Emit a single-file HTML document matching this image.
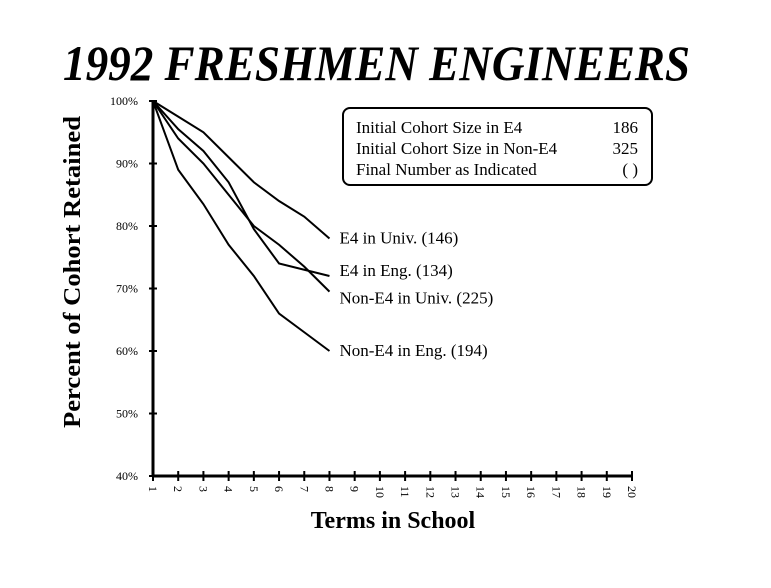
<!DOCTYPE html>
<html><head><meta charset="utf-8"><style>
html,body{margin:0;padding:0;background:#fff;}
svg{display:block;font-family:"Liberation Serif",serif;}
</style></head><body>
<svg id="chart" width="771" height="588" viewBox="0 0 771 588">
<text x="63" y="80" font-size="50" font-weight="bold" font-style="italic" textLength="627" lengthAdjust="spacingAndGlyphs">1992 FRESHMEN ENGINEERS</text>
<text transform="translate(80,272) rotate(-90)" text-anchor="middle" font-size="24" font-weight="bold" textLength="312" lengthAdjust="spacingAndGlyphs">Percent of Cohort Retained</text>
<text x="393" y="528" text-anchor="middle" font-size="24" font-weight="bold">Terms in School</text>
<g>
<rect x="343" y="108" width="309" height="77" rx="7" fill="none" stroke="#000" stroke-width="2"/>
<text x="356" y="133" font-size="17">Initial Cohort Size in E4</text>
<text x="638" y="133" font-size="17" text-anchor="end">186</text>
<text x="356" y="154" font-size="17">Initial Cohort Size in Non-E4</text>
<text x="638" y="154" font-size="17" text-anchor="end">325</text>
<text x="356" y="175" font-size="17">Final Number as Indicated</text>
<text x="638" y="175" font-size="17" text-anchor="end">( )</text>
</g>
<g id="axes"></g>
<g id="series"></g>
</svg>
<script>
const terms = [1,2,3,4,5,6,7,8];
const e4Univ = [100,97.5,95,91,87,84,81.5,78];
const e4Eng = [100,95.5,92,87,79.5,74,73,72];
const nonE4Univ = [100,94,90,85,80,77,73.5,69.5];
const nonE4Eng = [100,89,83.5,77,72,66,63,60];
const seriesNames = ["E4 in Univ. (146)","E4 in Eng. (134)","Non-E4 in Univ. (225)","Non-E4 in Eng. (194)"];
const yTicks = [40,50,60,70,80,90,100];
const xTicks = [1,2,3,4,5,6,7,8,9,10,11,12,13,14,15,16,17,18,19,20];

const NS="http://www.w3.org/2000/svg";
const X=t=>153+(t-1)*(632-153)/19;
const Y=v=>476-(v-40)*(476-101)/60;
function mk(tag,attrs,parent){const e=document.createElementNS(NS,tag);for(const k in attrs)e.setAttribute(k,attrs[k]);parent.appendChild(e);return e;}
const axes=document.getElementById('axes');
let l=mk('line',{x1:X(1),y1:Y(100),x2:X(1),y2:Y(40),stroke:'#000','stroke-width':3},axes);


l=mk('line',{x1:X(1),y1:Y(40),x2:X(20),y2:Y(40),stroke:'#000','stroke-width':3},axes);


yTicks.forEach(v=>{
  mk('line',{x1:X(1)-4,y1:Y(v),x2:X(1)+4,y2:Y(v),stroke:'#000','stroke-width':2},axes);
  const t=mk('text',{x:X(1)-15,y:Y(v)+4,'text-anchor':'end','font-size':12},axes);
  t.textContent=v+'%';
  
  
});
xTicks.forEach(v=>{
  mk('line',{x1:X(v),y1:Y(40)-5,x2:X(v),y2:Y(40)+5,stroke:'#000','stroke-width':2},axes);
  const t=mk('text',{transform:`translate(${X(v)-4},486) rotate(90)`,'font-size':12},axes);
  t.textContent=v;
  
  
});
const sg=document.getElementById('series');
const all=[e4Univ,e4Eng,nonE4Univ,nonE4Eng];
const labelDy=[5,0,12,5];
all.forEach((vals,i)=>{
  const p=mk('polyline',{points:vals.map((v,j)=>X(terms[j])+','+Y(v)).join(' '),fill:'none',stroke:'#000','stroke-width':2},sg);
  
  
  const last=vals[vals.length-1];
  const t=mk('text',{x:X(terms[terms.length-1])+10,y:Y(last)+labelDy[i],'font-size':17},sg);
  t.textContent=seriesNames[i];
  
  
});
</script>
</body></html>
